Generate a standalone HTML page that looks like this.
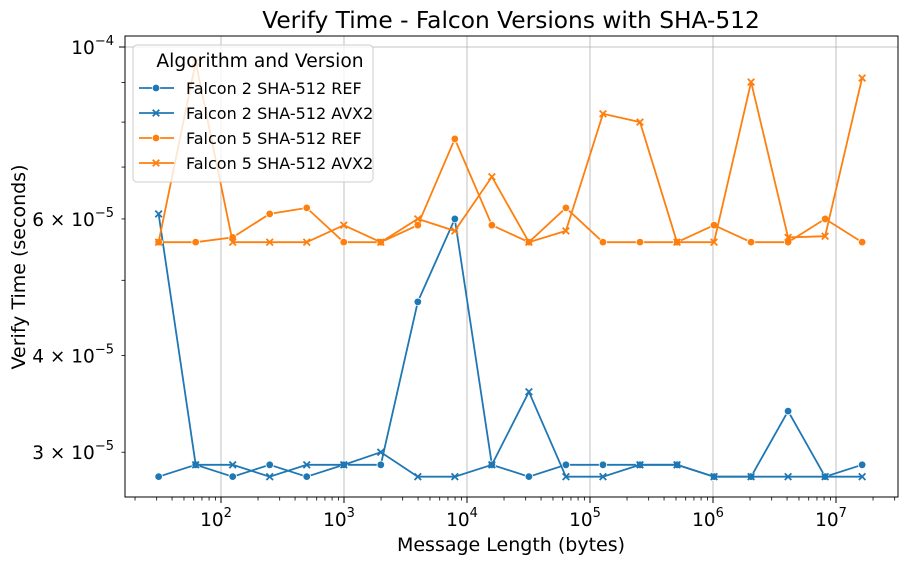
<!DOCTYPE html>
<html><head><meta charset="utf-8"><style>
body{margin:0;background:#fff;}
svg text{font-family:"DejaVu Sans","Liberation Sans",sans-serif;fill:#000;}
</style></head><body>
<svg id="chart" width="909" height="564" viewBox="0 0 909 564" xmlns="http://www.w3.org/2000/svg">
<text x="511" y="28" font-size="23.3" text-anchor="middle">Verify Time - Falcon Versions with SHA-512</text>
<g id="grid"></g>
<g id="axes"></g>
<g id="series"></g>
<rect x="125" y="36" width="773" height="461" fill="none" stroke="#000" stroke-width="1"/>
<text x="511" y="551" font-size="19" text-anchor="middle">Message Length (bytes)</text>
<text transform="translate(25,267) rotate(-90)" font-size="19" text-anchor="middle">Verify Time (seconds)</text>
<g id="legend">
<rect x="133" y="45" width="240" height="137" rx="4" fill="#fff" fill-opacity="0.8" stroke="#ccc"/>
<text x="260" y="67" font-size="18.7" text-anchor="middle">Algorithm and Version</text>
</g>
</svg>
<script>
const sizes=[32,64,128,256,512,1024,2048,4096,8192,16384,32768,65536,131072,262144,524288,1048576,2097152,4194304,8388608,16777216];
const seriesNames=["Falcon 2 SHA-512 REF","Falcon 2 SHA-512 AVX2","Falcon 5 SHA-512 REF","Falcon 5 SHA-512 AVX2"];
const f2ref=[2.79e-5,2.89e-5,2.79e-5,2.89e-5,2.79e-5,2.89e-5,2.89e-5,4.69e-5,6.0e-5,2.89e-5,2.79e-5,2.89e-5,2.89e-5,2.89e-5,2.89e-5,2.79e-5,2.79e-5,3.39e-5,2.79e-5,2.89e-5];
const f2avx=[6.09e-5,2.89e-5,2.89e-5,2.79e-5,2.89e-5,2.89e-5,3.0e-5,2.79e-5,2.79e-5,2.89e-5,3.59e-5,2.79e-5,2.79e-5,2.89e-5,2.89e-5,2.79e-5,2.79e-5,2.79e-5,2.79e-5,2.79e-5];
const f5ref=[5.60e-5,5.60e-5,5.68e-5,6.09e-5,6.20e-5,5.60e-5,5.60e-5,5.89e-5,7.61e-5,5.89e-5,5.60e-5,6.20e-5,5.60e-5,5.60e-5,5.60e-5,5.89e-5,5.60e-5,5.60e-5,6.0e-5,5.60e-5];
const f5avx=[5.60e-5,9.56e-5,5.60e-5,5.60e-5,5.60e-5,5.89e-5,5.60e-5,6.0e-5,5.79e-5,6.80e-5,5.60e-5,5.79e-5,8.20e-5,8.00e-5,5.60e-5,5.60e-5,9.01e-5,5.68e-5,5.70e-5,9.12e-5];
const xMajorTicks=[2,3,4,5,6,7];
const yTickValues=[1e-4,6e-5,4e-5,3e-5];
const yTickLabels=["10","6 × 10","4 × 10","3 × 10"];
const yTickExps=["−4","−5","−5","−5"];

const NS="http://www.w3.org/2000/svg";
const X=v=>221+(Math.log10(v)-2)*123;
const Y=v=>47+775*Math.log10(1e-4/v);
function mk(tag,attrs,parent){const e=document.createElementNS(NS,tag);for(const k in attrs)e.setAttribute(k,attrs[k]);parent.appendChild(e);return e;}
const grid=document.getElementById('grid'),axes=document.getElementById('axes'),ser=document.getElementById('series'),leg=document.getElementById('legend');
xMajorTicks.forEach(p=>{
  const x=X(Math.pow(10,p));
  const g=mk('line',{x1:x,x2:x,y1:36,y2:497,stroke:'#b0b0b0','stroke-width':0.8},grid);
  
  
  mk('line',{x1:x,x2:x,y1:497,y2:503,stroke:'#000'},axes);
  const t=mk('text',{x:x-5,y:526,'font-size':18.5,'text-anchor':'middle'},axes);
  
  
  t.textContent='10';
  const s=mk('tspan',{dy:-9,'font-size':13},t);s.textContent=String(p);
});
for(let p=1;p<=7;p++)for(let m=2;m<=9;m++){const v=m*Math.pow(10,p);const x=X(v);if(x<125||x>898)continue;mk('line',{x1:x,x2:x,y1:497,y2:500.5,stroke:'#000','stroke-width':0.8},axes);}
const gy=mk('line',{x1:125,x2:898,y1:Y(1e-4),y2:Y(1e-4),stroke:'#b0b0b0','stroke-width':0.8},grid);


[3e-5,4e-5,5e-5,6e-5,7e-5,8e-5,9e-5].forEach(v=>mk('line',{x1:121.5,x2:125,y1:Y(v),y2:Y(v),stroke:'#000','stroke-width':0.8},axes));
mk('line',{x1:119,x2:125,y1:Y(1e-4),y2:Y(1e-4),stroke:'#000'},axes);
yTickValues.forEach((v,i)=>{
  const t=mk('text',{x:114,y:Y(v)+7,'font-size':18.5,'text-anchor':'end'},axes);
  
  
  t.textContent=yTickLabels[i];
  const s=mk('tspan',{dy:-9,'font-size':13},t);s.textContent=yTickExps[i];
});
const colors=['#1f77b4','#1f77b4','#ff7f0e','#ff7f0e'];
const markers=['o','x','o','x'];
const data=[f2ref,f2avx,f5ref,f5avx];
function marker(type,x,y,c,parent){
  if(type==='o'){return mk('circle',{cx:x,cy:y,r:3.8,fill:c,stroke:'#fff','stroke-width':0.8},parent);}
  return mk('path',{d:`M${x-3.3},${y-3.3}L${x+3.3},${y+3.3}M${x-3.3},${y+3.3}L${x+3.3},${y-3.3}`,stroke:c,'stroke-width':1.8},parent);
}
data.forEach((arr,si)=>{
  const g=mk('g',{},ser);
  
  
  const pts=arr.map((v,i)=>(X(sizes[i])-1.5).toFixed(1)+','+Y(v).toFixed(1)).join(' ');
  const l=mk('polyline',{points:pts,fill:'none',stroke:colors[si],'stroke-width':1.8},g);
  
  
  arr.forEach((v,i)=>{const m=marker(markers[si],X(sizes[i])-1.5,Y(v),colors[si],g);
    
    });
});
seriesNames.forEach((n,i)=>{
  const y=88+i*25;
  const g=mk('g',{},leg);
  
  
  mk('line',{x1:139,x2:174,y1:y,y2:y,stroke:colors[i],'stroke-width':1.8},g);
  marker(markers[i],156,y,colors[i],g);
  const t=mk('text',{x:186,y:y+6,'font-size':16},g);t.textContent=n;
});
</script>
</body></html>
